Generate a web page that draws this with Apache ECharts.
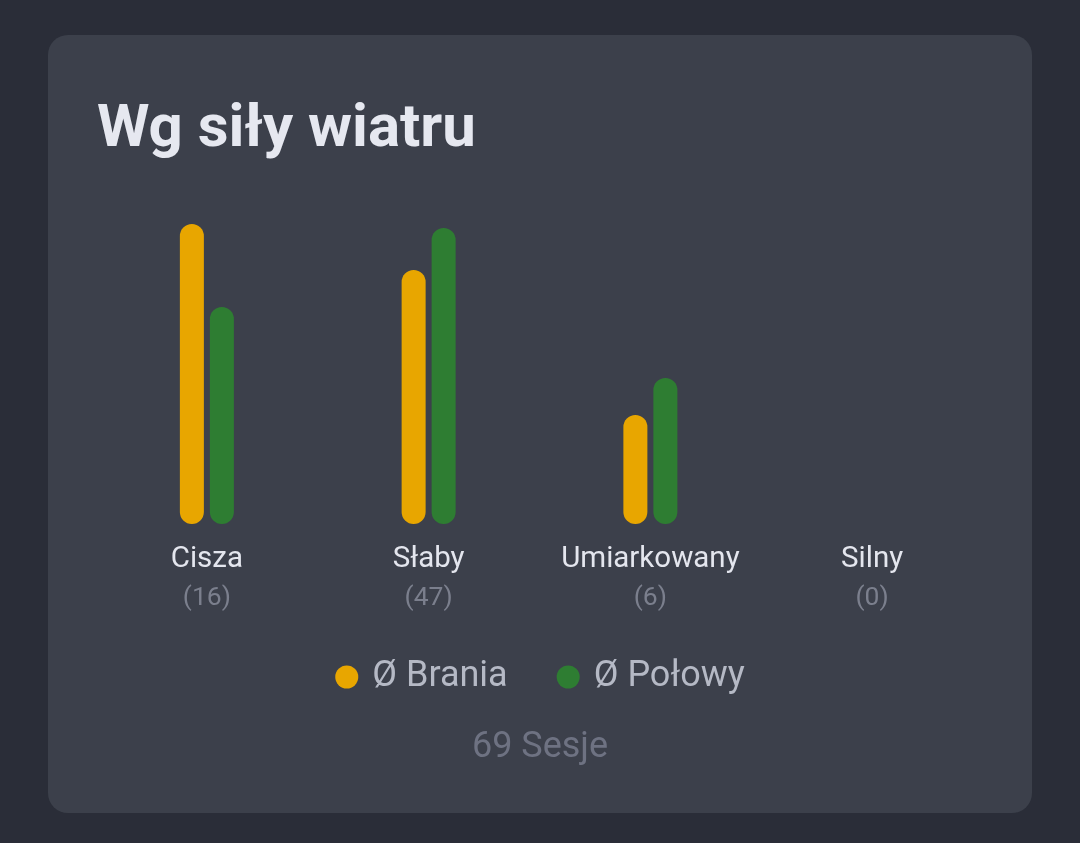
<!DOCTYPE html>
<html>
<head>
<meta charset="utf-8">
<script src="https://cdn.jsdelivr.net/npm/echarts@6/dist/echarts.min.js"></script>
<style>
  html, body { margin:0; padding:0; width:1080px; height:843px; background:#2a2d38; overflow:hidden; }
  #card { position:absolute; left:48px; top:35px; width:984px; height:778px; background:#3c404b; border-radius:20px; }
  #chart { position:absolute; left:0; top:0; width:1080px; height:843px; }
</style>
</head>
<body>
<div id="card"></div>
<div id="chart"></div>
<script>
const titleText = 'Wg siły wiatru';
const categories = ['Cisza', 'Słaby', 'Umiarkowany', 'Silny'];
const sessionCounts = [16, 47, 6, 0];
const seriesNames = ['Ø Brania', 'Ø Połowy'];
const braniaValues = [3.0, 2.54, 1.09, 0];
const polowyValues = [2.17, 2.96, 1.46, 0];
const colors = ['#e8a600', '#2e7d32'];

const totalSessions = sessionCounts.reduce((a, b) => a + b, 0);
const FONT = 'Roboto';

const chart = echarts.init(document.getElementById('chart'), null, { renderer: 'canvas' });
chart.setOption({
  backgroundColor: 'transparent',
  animation: false,
  textStyle: { fontFamily: FONT },
  title: [
    {
      text: titleText,
      left: 92, top: 96,
      textStyle: { fontFamily: FONT, fontSize: 60, fontWeight: 'bold', color: '#e6e8f0', lineHeight: 60 }
    },
    {
      text: totalSessions + ' Sesje',
      left: 535, top: 725, textAlign: 'center',
      textStyle: { fontFamily: FONT, fontSize: 36, fontWeight: 'normal', color: '#6e7282', lineHeight: 36 }
    }
  ],
  legend: {
    data: seriesNames,
    left: 'center', top: 654,
    icon: 'circle',
    itemWidth: 23, itemHeight: 23,
    itemGap: 49,
    textStyle: { fontFamily: FONT, fontSize: 36, color: '#b5b9c5', padding: [0, 0, 0, 9] }
  },
  grid: { left: 96, right: 97, top: 224, bottom: 319, containLabel: false },
  xAxis: {
    type: 'category',
    data: categories,
    axisLine: { show: false },
    axisTick: { show: false },
    axisLabel: {
      margin: 16,
      interval: 0,
      formatter: function (v, i) { return '{n|' + v + '}\n{c|(' + sessionCounts[i] + ')}'; },
      rich: {
        n: { fontFamily: FONT, fontSize: 29.5, color: '#e4e6ee', lineHeight: 40 },
        c: { fontFamily: FONT, fontSize: 26.5, color: '#7b7f8d', lineHeight: 37 }
      }
    }
  },
  yAxis: {
    type: 'value', min: 0, max: 3.0, show: false,
    splitLine: { show: false }
  },
  series: [
    {
      name: seriesNames[0], type: 'bar', data: braniaValues,
      barWidth: 24, barGap: '25%',
      itemStyle: { color: colors[0], borderRadius: 12 }
    },
    {
      name: seriesNames[1], type: 'bar', data: polowyValues,
      barWidth: 24, barGap: '25%',
      itemStyle: { color: colors[1], borderRadius: 12 }
    }
  ]
});
</script>
</body>
</html>
